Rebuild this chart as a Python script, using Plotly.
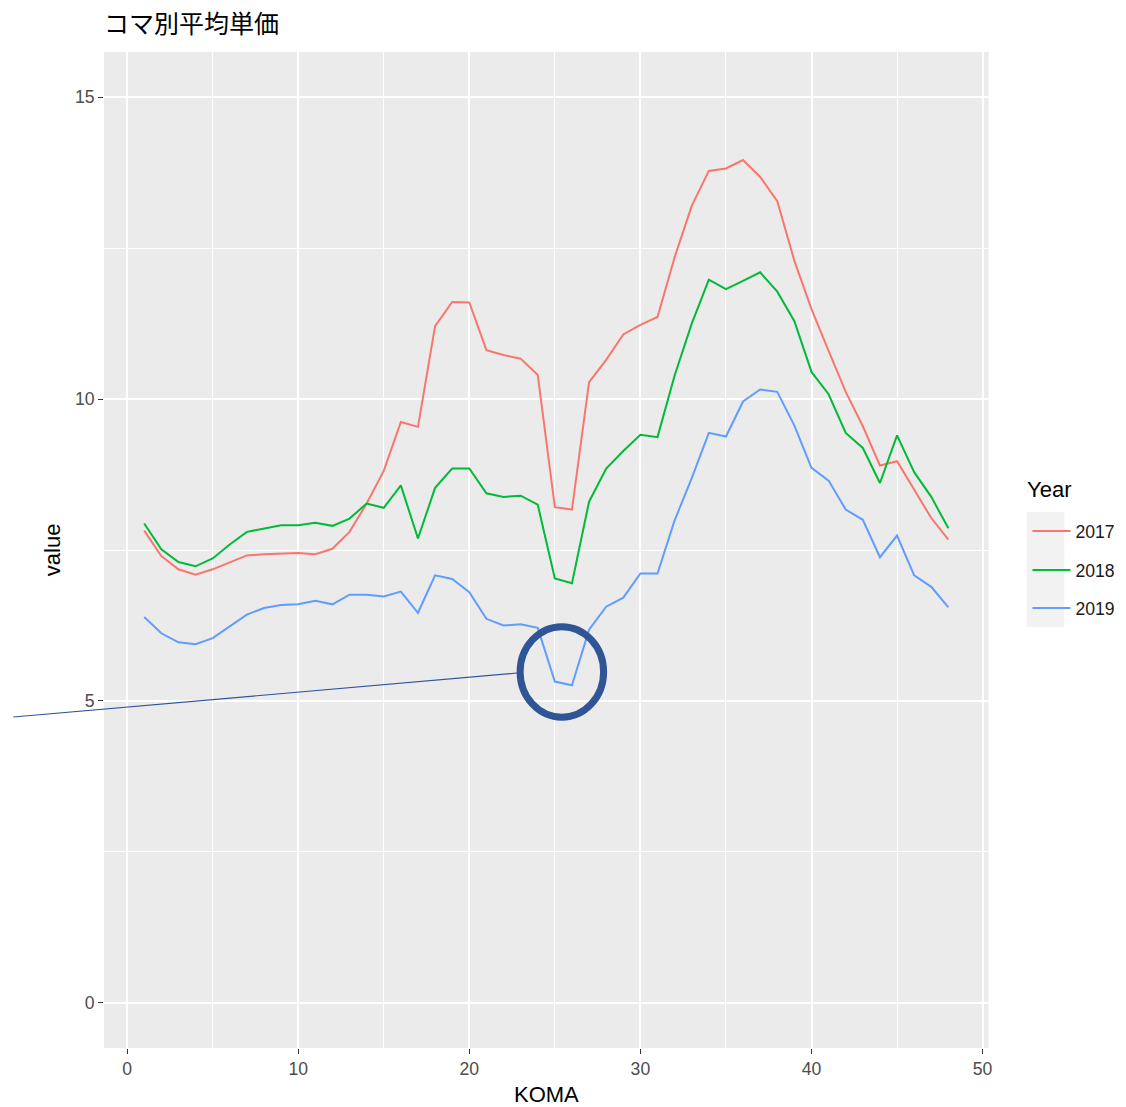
import plotly.graph_objects as go

koma = list(range(1, 49))
years = ["2017", "2018", "2019"]
v2017 = [7.82, 7.40, 7.18, 7.09, 7.18, 7.29, 7.41, 7.43, 7.44, 7.45,
         7.43, 7.52, 7.80, 8.27, 8.81, 9.62, 9.54, 11.21, 11.61, 11.60,
         10.81, 10.73, 10.67, 10.40, 8.21, 8.17, 10.28, 10.65, 11.07, 11.23,
         11.36, 12.35, 13.20, 13.78, 13.82, 13.96, 13.68, 13.28, 12.29, 11.49,
         10.80, 10.12, 9.55, 8.90, 8.97, 8.49, 8.03, 7.67]
v2018 = [7.94, 7.51, 7.30, 7.23, 7.36, 7.59, 7.80, 7.86, 7.91, 7.91,
         7.95, 7.90, 8.02, 8.27, 8.20, 8.57, 7.69, 8.53, 8.85, 8.85,
         8.44, 8.38, 8.40, 8.25, 7.03, 6.95, 8.30, 8.85, 9.14, 9.41,
         9.37, 10.39, 11.25, 11.98, 11.82, 11.96, 12.10, 11.78, 11.29, 10.45,
         10.08, 9.44, 9.19, 8.61, 9.40, 8.79, 8.38, 7.86]
v2019 = [6.39, 6.12, 5.97, 5.94, 6.04, 6.23, 6.43, 6.54, 6.59, 6.60,
         6.66, 6.60, 6.76, 6.76, 6.73, 6.81, 6.46, 7.08, 7.02, 6.80,
         6.36, 6.25, 6.27, 6.21, 5.32, 5.26, 6.18, 6.56, 6.71, 7.11,
         7.11, 7.99, 8.69, 9.44, 9.38, 9.96, 10.16, 10.12, 9.56, 8.86,
         8.65, 8.17, 8.00, 7.38, 7.74, 7.08, 6.89, 6.55]
series = [v2017, v2018, v2019]
colors = ["#F8766D", "#00BA38", "#619CFF"]
x_ticks = [0, 10, 20, 30, 40, 50]
y_ticks = [0, 5, 10, 15]

# figure is a little wider than the window so the legend never pushes the margins
W, H = 1146, 1107
L, T, R = 104, 52, 0
PLOT_W, PH = 888, 996
B = H - T - PH
PAPER_W = W - L - R

def px_x(p):
    return (p - L) / PAPER_W

def px_y(p):
    return (T + PH - p) / PH

FONT = "Liberation Sans, Arial, sans-serif"
fig = go.Figure()
legend_names = ["legend", "legend2", "legend3"]
legend_y = [531, 570, 608]
for name, vals, col, lg in zip(years, series, colors, legend_names):
    fig.add_trace(go.Scatter(x=koma, y=vals, mode="lines", name=name,
                             line=dict(color=col, width=2), legend=lg))

legend_common = dict(bgcolor="rgba(0,0,0,0)", font=dict(family=FONT, size=17.6, color="#1A1A1A"),
                     xanchor="left", yanchor="middle", itemwidth=38,
                     x=px_x(1031))
layout_legends = {}
for lg, py in zip(legend_names, legend_y):
    layout_legends[lg] = dict(legend_common, y=px_y(py))

fig.update_layout(
    width=W, height=H,
    margin=dict(l=L, r=R, t=T, b=B),
    paper_bgcolor="white", plot_bgcolor="white",
    font=dict(family=FONT),
    title=dict(text="コマ別平均単価", x=104 / W, xref="container", xanchor="left",
               y=1 - 24 / H, yref="container", yanchor="middle",
               font=dict(family="Noto Sans CJK JP, sans-serif", size=25, color="#000000")),
    showlegend=True,
    **layout_legends,
)

# grey panel only behind the axes area
fig.add_shape(type="rect", xref="paper", yref="paper", x0=0, x1=PLOT_W / PAPER_W, y0=0, y1=1,
              fillcolor="#EBEBEB", line=dict(width=0), layer="below")

fig.update_xaxes(domain=[0, PLOT_W / PAPER_W],
                 range=[-1.35, 50.35], tickvals=x_ticks, ticktext=[str(t) for t in x_ticks],
                 showgrid=True, gridcolor="white", gridwidth=2,
                 minor=dict(tickvals=[5, 15, 25, 35, 45], showgrid=True, gridcolor="white", gridwidth=1, ticks=""),
                 zeroline=False, showline=False,
                 ticks="outside", ticklen=5, tickwidth=1.2, tickcolor="#333333",
                 tickfont=dict(family=FONT, size=17.6, color="#4D4D4D"))
fig.update_yaxes(range=[-0.75, 15.75], tickvals=y_ticks, ticktext=[str(t) for t in y_ticks],
                 showgrid=True, gridcolor="white", gridwidth=2,
                 minor=dict(tickvals=[2.5, 7.5, 12.5], showgrid=True, gridcolor="white", gridwidth=1, ticks=""),
                 zeroline=False, showline=False,
                 ticks="outside", ticklen=5, tickwidth=1.2, tickcolor="#333333",
                 tickfont=dict(family=FONT, size=17.6, color="#4D4D4D"))

# axis titles
fig.add_annotation(text="KOMA", xref="paper", yref="paper", x=px_x(548), y=px_y(1094),
                   xanchor="center", yanchor="middle", showarrow=False,
                   font=dict(family=FONT, size=22, color="#000000"))
fig.add_annotation(text="value", xref="paper", yref="paper", x=px_x(52), y=0.5,
                   xanchor="center", yanchor="middle", showarrow=False, textangle=-90,
                   font=dict(family=FONT, size=22, color="#000000"))
# legend title
fig.add_annotation(text="Year", xref="paper", yref="paper", x=px_x(1029), y=px_y(489),
                   xanchor="left", yanchor="middle", showarrow=False,
                   font=dict(family=FONT, size=22, color="#000000"))
# legend key background
fig.add_shape(type="rect", xref="paper", yref="paper", x0=px_x(1030), x1=px_x(1068),
              y0=px_y(627), y1=px_y(512), fillcolor="#F2F2F2", line=dict(width=0), layer="below")

# highlight annotation: circle + pointer line
fig.add_shape(type="circle", xref="x", yref="y", x0=22.97, x1=27.85, y0=4.73, y1=6.23,
              line=dict(color="#2F5597", width=7), fillcolor="rgba(0,0,0,0)", layer="above")
fig.add_shape(type="line", xref="paper", yref="paper", x0=px_x(13), y0=px_y(717),
              x1=px_x(519), y1=px_y(673), line=dict(color="#2F5597", width=1.2), layer="above")

fig.write_html("out.html", config={"displayModeBar": False},
               post_script="document.body.style.margin='0';document.body.style.overflow='hidden';")
